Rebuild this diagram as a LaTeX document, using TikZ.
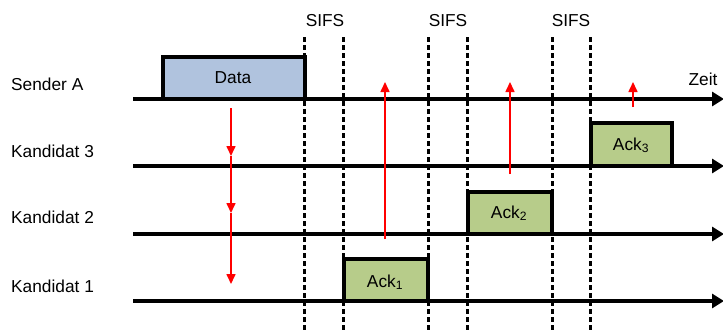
\documentclass[tikz,border=0pt]{standalone}
\usepackage{fontspec}
\setmainfont{Liberation Sans}
\usetikzlibrary{arrows.meta}
\definecolor{datafill}{RGB}{176,195,222}
\definecolor{ackfill}{RGB}{183,204,138}
\definecolor{sigred}{RGB}{255,0,0}
\tikzset{
  timeline/.style={line width=3.2pt,-{Triangle[length=12pt,width=14pt]}},
  sifsline/.style={line width=3pt,dash pattern=on 5pt off 3pt},
  frame/.style={draw,line width=3.2pt,inner sep=0pt,outer sep=0pt,anchor=south west},
  databox/.style={frame,fill=datafill},
  ackbox/.style={frame,fill=ackfill},
  sig/.style={sigred,line width=1.6pt,-{Triangle[length=10pt,width=9pt]}},
  lbl/.style={font=\fontsize{17.3}{19}\selectfont,inner sep=0pt},
}
\begin{document}
\begin{tikzpicture}[x=1pt,y=-1pt]
\useasboundingbox (0,0) rectangle (723,332);

% station labels
\node[lbl,anchor=base west] (lA) at (11,90) {Sender A};
\node[lbl,anchor=base west] (l3) at (11,157) {Kandidat 3};
\node[lbl,anchor=base west] (l2) at (11,223) {Kandidat 2};
\node[lbl,anchor=base west] (l1) at (11,292) {Kandidat 1};

% SIFS gaps
\foreach \n/\a/\b in {1/304/343, 2/428/467, 3/552/590}{
  \coordinate (s\n top) at (\a,37);
  \coordinate (s\n bot) at (\a,332);
  \coordinate (e\n top) at (\b,37);
  \coordinate (e\n bot) at (\b,332);
  \draw[sifsline] (s\n top) -- (s\n bot);
  \draw[sifsline] (e\n top) -- (e\n bot);
}
\node[lbl,anchor=base] (sifs1) at (325,26) {SIFS};
\node[lbl,anchor=base] (sifs2) at (448,26) {SIFS};
\node[lbl,anchor=base] (sifs3) at (571,26) {SIFS};

% frames on the timelines
\node[databox,minimum width=142pt,minimum height=42pt] (data) at (163,99) {};
\node[lbl,anchor=base] at (233,83) {Data};
\node[ackbox,minimum width=84pt,minimum height=42pt] (ack1) at (344,301) {};
\node[lbl,anchor=base] at (385,287) {Ack\textsubscript{1}};
\node[ackbox,minimum width=84pt,minimum height=42pt] (ack2) at (468,234) {};
\node[lbl,anchor=base] at (509,218) {Ack\textsubscript{2}};
\node[ackbox,minimum width=81pt,minimum height=43pt] (ack3) at (591,166) {};
\node[lbl,anchor=base] at (631,150) {Ack\textsubscript{3}};

% timelines
\coordinate (tA) at (133,99);  \coordinate (tAend) at (724,99);
\coordinate (t3) at (133,166); \coordinate (t3end) at (724,166);
\coordinate (t2) at (133,234); \coordinate (t2end) at (724,234);
\coordinate (t1) at (133,301); \coordinate (t1end) at (724,301);
\draw[timeline] (tA) -- (tAend);
\draw[timeline] (t3) -- (t3end);
\draw[timeline] (t2) -- (t2end);
\draw[timeline] (t1) -- (t1end);
\node[lbl,anchor=base] (zeit) at (703,85) {Zeit};

% data reaching the candidates
\coordinate (d0) at (231,108);
\coordinate (d3) at (231,156);
\coordinate (d2) at (231,213);
\coordinate (d1) at (231,284);
\draw[sig] (d0) -- (d3);
\draw[sig] (d3) -- (d2);
\draw[sig] (d2) -- (d1);

% acknowledgements heard by the sender
\coordinate (u1) at (385,239); \coordinate (u1tip) at (385,82);
\coordinate (u2) at (510,174); \coordinate (u2tip) at (510,82);
\coordinate (u3) at (633,107); \coordinate (u3tip) at (633,82);
\draw[sig] (u1) -- (u1tip);
\draw[sig] (u2) -- (u2tip);
\draw[sig] (u3) -- (u3tip);
\end{tikzpicture}
\end{document}
